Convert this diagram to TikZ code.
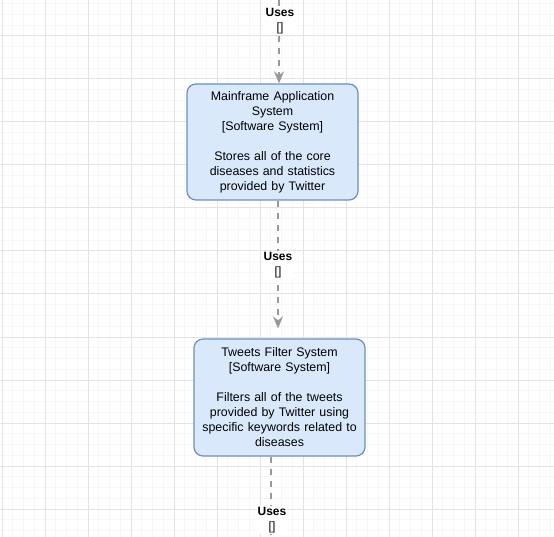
\documentclass[tikz,border=0pt]{standalone}
\usepackage{fontspec}
\setmainfont{Liberation Sans}
\usepackage{xcolor}
\usepackage{tikz}
\usetikzlibrary{arrows.meta, positioning}

\definecolor{sysfill}{HTML}{DAE8FC}
\definecolor{sysline}{HTML}{6C8EBF}
\definecolor{relline}{HTML}{999999}

\begin{document}
\begin{tikzpicture}[
    x=1pt, y=-1pt,
    system/.style={rectangle, draw=sysline, fill=sysfill, line width=1.2pt,
                rounded corners=9pt, minimum width=171pt, text width=168pt,
                align=center, inner sep=0pt,
                font=\fontsize{12.4}{15}\selectfont},
    rel/.style={draw=relline, line width=2pt, dash pattern=on 6pt off 6pt,
                -{Stealth[length=12pt, width=10pt]}},
    rellabel/.style={fill=white, inner sep=1pt, align=center,
                font=\fontsize{12}{15}\selectfont},
    minorgrid/.style={gray!6, line width=1pt},
    majorgrid/.style={gray!22, line width=1pt}
]
\useasboundingbox (0,0) rectangle (554,537);

% === GRID ===
\foreach \k in {0,...,51} {
  \draw[minorgrid] (2+10.75*\k,0) -- (2+10.75*\k,537);
  \draw[minorgrid] (0,-7+10.75*\k) -- (554,-7+10.75*\k);
}
\foreach \k in {0,...,12} {
  \draw[majorgrid] (2+43*\k,0) -- (2+43*\k,537);
  \draw[majorgrid] (0,-7+43*\k) -- (554,-7+43*\k);
}

% === SYSTEMS ===
\node[system, minimum height=116pt] (mainframe) at (272.5,142) {Mainframe Application\\
System\\{[Software System]}\\\mbox{}\\
Stores all of the core\\diseases and statistics\\provided by Twitter};
\node[system, minimum height=117pt] (filter) at (279.5,397.5) {Tweets Filter System\\
{[Software System]}\\\mbox{}\\
Filters all of the tweets\\provided by Twitter using\\specific keywords related to\\diseases};

\coordinate (in) at (279,0);
\coordinate (out) at (271,537);

% === RELATIONS ===
\draw[rel] (in) -- (in |- mainframe.north);
\draw[rel, shorten >=10pt] ([xshift=5.5pt]mainframe.south) -- ([xshift=-1.5pt]filter.north);
\draw[rel, -] ([xshift=-8.5pt]filter.south) -- (out);

% === LABELS ===
\node[rellabel] (uses1) at (280,21.5) {\textbf{Uses}\\{[]}};
\node[rellabel] (uses2) at (278,265) {\textbf{Uses}\\{[]}};
\node[rellabel] (uses3) at (272,520) {\textbf{Uses}\\{[]}};

\end{tikzpicture}
\end{document}
